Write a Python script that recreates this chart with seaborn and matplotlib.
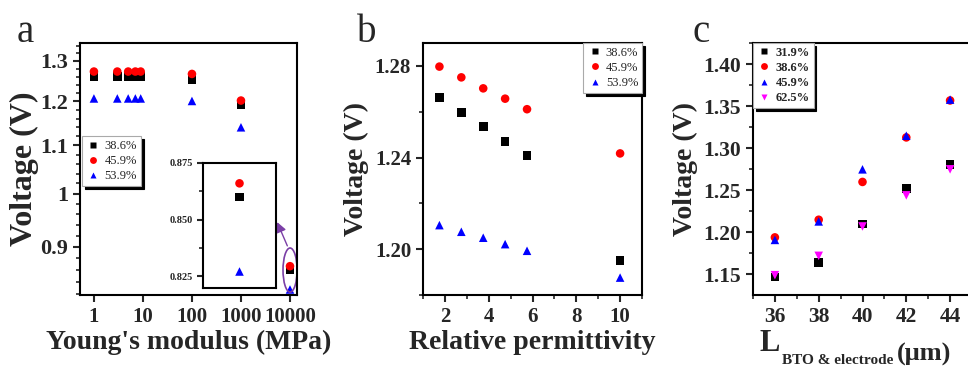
import pandas as pd
import seaborn as sns
import matplotlib.pyplot as plt
from matplotlib.ticker import FixedLocator, FixedFormatter, MultipleLocator, LogLocator, NullFormatter
from matplotlib.patches import Ellipse

# panel a: voltage vs Young's modulus
modulus = [1, 3, 5, 7, 9, 100, 1000, 10000]
a_386 = [1.260, 1.260, 1.260, 1.260, 1.260, 1.253, 1.192, 0.860]
a_459 = [1.273, 1.273, 1.273, 1.273, 1.273, 1.267, 1.202, 0.866]
a_539 = [1.207, 1.207, 1.207, 1.207, 1.207, 1.201, 1.140, 0.827]

# panel b: voltage vs relative permittivity
permittivity = [1.75, 2.75, 3.75, 4.75, 5.75, 10]
b_386 = [1.2663, 1.2597, 1.2535, 1.2471, 1.2408, 1.1950]
b_459 = [1.2797, 1.2750, 1.2702, 1.2657, 1.2611, 1.2418]
b_539 = [1.2105, 1.2076, 1.2050, 1.2022, 1.1993, 1.1876]

# panel c: voltage vs length
length = [36, 38, 40, 42, 44]
c_319 = [1.147, 1.164, 1.210, 1.252, 1.281]
c_386 = [1.194, 1.215, 1.260, 1.313, 1.357]
c_459 = [1.191, 1.213, 1.275, 1.315, 1.358]
c_625 = [1.149, 1.172, 1.207, 1.244, 1.275]

sns.set_style("ticks")
plt.rcParams["font.family"] = ["Liberation Serif", "DejaVu Serif"]
plt.rcParams["axes.linewidth"] = 1.5

palette_ab = {"38.6%": "black", "45.9%": "red", "53.9%": "blue"}
markers_ab = {"38.6%": "s", "45.9%": "o", "53.9%": "^"}
palette_c = {"31.9%": "black", "38.6%": "red", "45.9%": "blue", "62.5%": "magenta"}
markers_c = {"31.9%": "s", "38.6%": "o", "45.9%": "^", "62.5%": "v"}
purple = "#7B3FA6"


def long_df(x, series):
    rows = []
    for name, vals in series.items():
        for xi, yi in zip(x, vals):
            rows.append({"x": xi, "y": yi, "group": name})
    return pd.DataFrame(rows)


def style_axis(ax, tick_size):
    for s in ax.spines.values():
        s.set_visible(True)
        s.set_linewidth(1.5)
        s.set_color("black")
    ax.tick_params(which="major", direction="out", length=5, width=1.5,
                   labelsize=tick_size, top=False, right=False)
    ax.tick_params(which="minor", direction="out", length=3, width=1.2,
                   top=False, right=False)
    for lab in ax.get_xticklabels() + ax.get_yticklabels():
        lab.set_fontweight("bold")


def make_legend(ax, loc, anchor, bold):
    h, l = ax.get_legend_handles_labels()
    leg = ax.legend(h, l, loc=loc, bbox_to_anchor=anchor, frameon=True, fancybox=False,
                    shadow={"color": "black", "alpha": 1}, borderaxespad=0,
                    prop={"size": 9, "weight": "bold" if bold else "normal"},
                    handletextpad=0.3, labelspacing=0.25, borderpad=0.3,
                    markerscale=0.8, handlelength=1.2)
    leg.get_frame().set_edgecolor("#aaaaaa")
    leg.get_frame().set_linewidth(0.8)


fig = plt.figure(figsize=(9.68, 3.68), dpi=100)
W, H = 968, 368


def px_axes(l, r, t, b):
    return fig.add_axes([l / W, 1 - b / H, (r - l) / W, (b - t) / H])


# ---- panel a ----
ax_a = px_axes(80, 297, 43, 295)
df_a = long_df(modulus, {"38.6%": a_386, "45.9%": a_459, "53.9%": a_539})
sns.scatterplot(data=df_a, x="x", y="y", hue="group", style="group", palette=palette_ab,
                markers=markers_ab, s=38, edgecolor="none", ax=ax_a)
ax_a.set_xscale("log")
ax_a.set_yscale("log")
ax_a.set_xlim(0.52, 13900)
ax_a.set_ylim(0.818, 1.347)
ax_a.xaxis.set_major_locator(FixedLocator([1, 10, 100, 1000, 10000]))
ax_a.xaxis.set_major_formatter(FixedFormatter(["1", "10", "100", "1000", "10000"]))
ax_a.xaxis.set_minor_locator(LogLocator(subs=[10 ** 0.5]))
ax_a.xaxis.set_minor_formatter(NullFormatter())
ax_a.yaxis.set_major_locator(FixedLocator([0.9, 1.0, 1.1, 1.2, 1.3]))
ax_a.yaxis.set_major_formatter(FixedFormatter(["0.9", "1", "1.1", "1.2", "1.3"]))
ax_a.yaxis.set_minor_locator(MultipleLocator(0.02))
ax_a.yaxis.set_minor_formatter(NullFormatter())
ax_a.set_xlabel("Young's modulus (MPa)", fontsize=20, fontweight="bold", labelpad=2)
ax_a.set_ylabel("Voltage (V)", fontsize=23, fontweight="bold", labelpad=1)
style_axis(ax_a, 16)
ax_a.tick_params(axis="x", labelsize=15)
make_legend(ax_a, "upper left", (0.01, 0.63), False)

# inset of the 10000 MPa points
ax_in = px_axes(203, 276, 163, 288)
df_in = df_a[df_a["x"] == 10000]
sns.scatterplot(data=df_in, x="x", y="y", hue="group", style="group", palette=palette_ab,
                markers=markers_ab, s=38, edgecolor="none", ax=ax_in, legend=False)
ax_in.set_xscale("log")
ax_in.set_xlim(10000 / 1.6, 10000 * 1.6)
ax_in.set_ylim(0.8197, 0.875)
ax_in.set_xticks([])
ax_in.xaxis.set_minor_locator(FixedLocator([]))
ax_in.yaxis.set_major_locator(FixedLocator([0.825, 0.850, 0.875]))
ax_in.yaxis.set_major_formatter(FixedFormatter(["0.825", "0.850", "0.875"]))
ax_in.yaxis.set_minor_locator(MultipleLocator(0.0125))
ax_in.set_xlabel("")
ax_in.set_ylabel("")
style_axis(ax_in, 7.5)
ax_in.tick_params(which="major", length=4)

# circle + arrow to inset
ax_a.add_patch(Ellipse((0.968, 0.099), 0.065, 0.175, transform=ax_a.transAxes,
                       fill=False, edgecolor=purple, lw=1.2))
ax_a.annotate("", xy=(1.0, (0.850 - 0.8197) / (0.875 - 0.8197)), xycoords=ax_in.transAxes,
              xytext=(9300, 0.897), textcoords="data",
              arrowprops=dict(arrowstyle="-|>,head_length=0.6,head_width=0.3",
                              color=purple, lw=1.0))

# ---- panel b ----
ax_b = px_axes(423, 642, 43, 295)
df_b = long_df(permittivity, {"38.6%": b_386, "45.9%": b_459, "53.9%": b_539})
sns.scatterplot(data=df_b, x="x", y="y", hue="group", style="group", palette=palette_ab,
                markers=markers_ab, s=38, edgecolor="none", ax=ax_b)
ax_b.set_xlim(1, 11)
ax_b.set_ylim(1.180, 1.290)
ax_b.xaxis.set_major_locator(MultipleLocator(2))
ax_b.xaxis.set_minor_locator(MultipleLocator(1))
ax_b.set_yticks([1.20, 1.24, 1.28])
ax_b.set_yticklabels(["1.20", "1.24", "1.28"])
ax_b.yaxis.set_minor_locator(MultipleLocator(0.02))
ax_b.set_xlabel("Relative permittivity", fontsize=20, fontweight="bold", labelpad=2)
ax_b.set_ylabel("Voltage (V)", fontsize=20, fontweight="bold", labelpad=4)
style_axis(ax_b, 15)
make_legend(ax_b, "upper right", (1.0, 1.0), False)

# ---- panel c ----
ax_c = px_axes(753, 972, 43, 295)
df_c = long_df(length, {"31.9%": c_319, "38.6%": c_386, "45.9%": c_459, "62.5%": c_625})
sns.scatterplot(data=df_c, x="x", y="y", hue="group", style="group", palette=palette_c,
                markers=markers_c, s=38, edgecolor="none", ax=ax_c)
ax_c.set_xlim(35, 45)
ax_c.set_ylim(1.1254, 1.4254)
ax_c.xaxis.set_major_locator(MultipleLocator(2))
ax_c.xaxis.set_minor_locator(MultipleLocator(1))
ax_c.set_yticks([1.15, 1.20, 1.25, 1.30, 1.35, 1.40])
ax_c.set_yticklabels(["1.15", "1.20", "1.25", "1.30", "1.35", "1.40"])
ax_c.yaxis.set_minor_locator(MultipleLocator(0.025))
ax_c.set_xlabel("")
ax_c.set_ylabel("Voltage (V)", fontsize=20, fontweight="bold", labelpad=4)
style_axis(ax_c, 15.5)
make_legend(ax_c, "upper left", (0.0, 1.0), True)

# x label of panel c built from pieces (main letter, subscript, unit)
t_L = fig.text(760 / W, 1 - 351 / H, "L", fontsize=22, fontweight="bold",
               ha="left", va="baseline")
t_sub = ax_c.annotate("BTO & electrode", xy=(1.0, 0.0), xycoords=t_L,
                      xytext=(1, -4), textcoords="offset points",
                      fontsize=11, fontweight="bold", ha="left", va="baseline",
                      annotation_clip=False)
ax_c.annotate("(μm)", xy=(1.0, 0.0), xycoords=t_sub, xytext=(3, 4),
              textcoords="offset points", fontsize=19, fontweight="bold",
              ha="left", va="baseline", annotation_clip=False)

# panel letters
fig.text(17 / W, 1 - 42 / H, "a", fontsize=28, ha="left", va="baseline")
fig.text(357 / W, 1 - 42 / H, "b", fontsize=28, ha="left", va="baseline")
fig.text(692 / W, 1 - 42 / H, "c", fontsize=28, ha="left", va="baseline")

fig.savefig("out.png", dpi=100)
